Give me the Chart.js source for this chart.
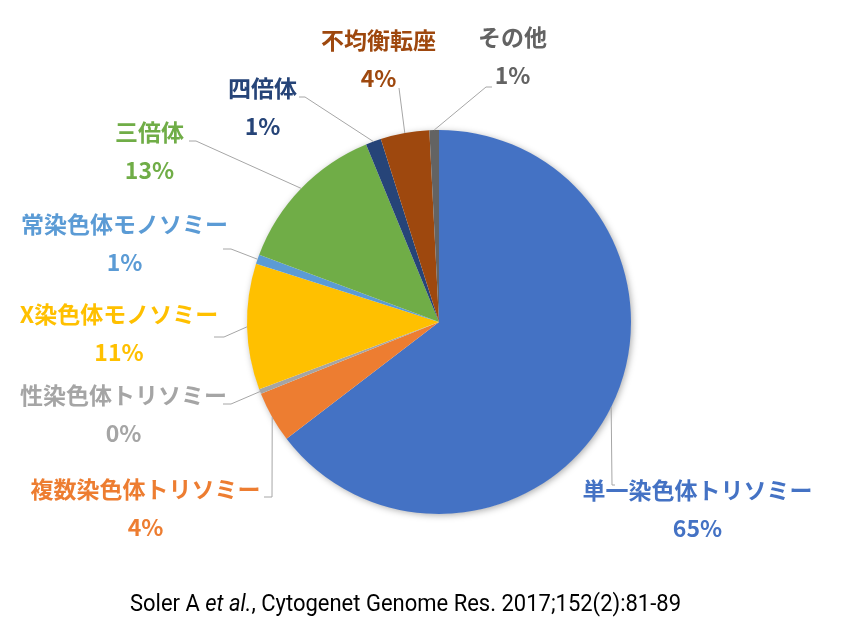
<!DOCTYPE html>
<html lang="ja">
<head>
<meta charset="utf-8">
<title>染色体異常の内訳</title>
<script src="https://cdn.jsdelivr.net/npm/chart.js@4/dist/chart.umd.min.js"></script>
<style>
  html, body { margin: 0; padding: 0; background: #fff; }
  #wrap { width: 844px; height: 642px; position: relative; }
</style>
</head>
<body>
<div id="wrap"><canvas id="pieChart"></canvas></div>
<script>
// DATA (clockwise from 12 o'clock)
const categories = [
  "単一染色体トリソミー",
  "複数染色体トリソミー",
  "性染色体トリソミー",
  "X染色体モノソミー",
  "常染色体モノソミー",
  "三倍体",
  "四倍体",
  "不均衡転座",
  "その他",
];
const shares = [64.6, 4.3, 0.4, 10.6, 0.8, 13.1, 1.3, 4.1, 0.8];
const sourceNote = ["Soler A ", "et al.", ", Cytogenet Genome Res. 2017;152(2):81-89"];

// STYLE
const sliceColors = [
  "#4472C4", "#ED7D31", "#A5A5A5", "#FFC000", "#5B9BD5",
  "#70AD47", "#264478", "#9E480E", "#636363",
];
const labelFont = 'bold 23px "Noto Sans CJK JP", "Noto Sans", sans-serif';

// label block centre + leader bend points, relative to the pie centre
const labelLayout = [
  { dx: 258.5, dy: 187.5, leader: [[173, 163], [176, 163]] },
  { dx: -293.5, dy: 186.5, leader: [[-167, 175], [-175, 175]] },
  { dx: -315.5, dy: 92, leader: [[-208, 82], [-216, 82]] },
  { dx: -320, dy: 11, leader: [[-215, 15], [-225, 15]] },
  { dx: -314.5, dy: -79, leader: [[-208, -73], [-216, -73]] },
  { dx: -289.5, dy: -170.5, leader: [[-243, -181], [-250, -181]] },
  { dx: -176.5, dy: -214.5, leader: [[-134, -225], [-140, -225]] },
  { dx: -60.5, dy: -263, leader: [[-40, -234]] },
  { dx: 73.5, dy: -266, leader: [[47, -235], [53, -235]] },
];

const pieShadow = {
  id: "pieShadow",
  beforeDatasetsDraw(chart) {
    const arc = chart.getDatasetMeta(0).data[0];
    if (!arc) return;
    const { ctx } = chart;
    ctx.save();
    ctx.shadowColor = "rgba(0,0,0,0.35)";
    ctx.shadowBlur = 7;
    ctx.shadowOffsetX = 1.5;
    ctx.shadowOffsetY = 1.5;
    ctx.fillStyle = "#ffffff";
    ctx.beginPath();
    ctx.arc(arc.x, arc.y, arc.outerRadius - 0.5, 0, Math.PI * 2);
    ctx.fill();
    ctx.restore();
  },
};

const sliceLabels = {
  id: "sliceLabels",
  afterDatasetsDraw(chart) {
    const { ctx } = chart;
    const arcs = chart.getDatasetMeta(0).data;
    arcs.forEach((arc, i) => {
      const { x, y, startAngle, endAngle, outerRadius } = arc.getProps(
        ["x", "y", "startAngle", "endAngle", "outerRadius"], true);
      const mid = (startAngle + endAngle) / 2;
      const lay = labelLayout[i];

      // leader line
      ctx.save();
      ctx.strokeStyle = "#A6A6A6";
      ctx.lineWidth = 1;
      ctx.beginPath();
      ctx.moveTo(x + Math.cos(mid) * outerRadius, y + Math.sin(mid) * outerRadius);
      lay.leader.forEach(([lx, ly]) => ctx.lineTo(x + lx, y + ly));
      ctx.stroke();

      // text
      ctx.fillStyle = sliceColors[i];
      ctx.font = labelFont;
      ctx.textAlign = "center";
      ctx.textBaseline = "middle";
      ctx.fillText(categories[i], x + lay.dx, y + lay.dy - 19);
      ctx.fillText(Math.round(shares[i]) + "%", x + lay.dx, y + lay.dy + 19);
      ctx.restore();
    });
  },
};

const sourceText = {
  id: "sourceText",
  afterDraw(chart) {
    const { ctx } = chart;
    const fonts = [
      '24px Roboto, "Liberation Sans", sans-serif',
      'italic 24px Roboto, "Liberation Sans", sans-serif',
      '24px Roboto, "Liberation Sans", sans-serif',
    ];
    ctx.save();
    const widths = sourceNote.map((t, i) => { ctx.font = fonts[i]; return ctx.measureText(t).width; });
    const total = widths.reduce((a, b) => a + b, 0);
    const target = 551;
    const sx = target / total;
    ctx.translate(130, 605);
    ctx.scale(sx, 1);
    ctx.fillStyle = "#000";
    ctx.textBaseline = "middle";
    let cur = 0;
    sourceNote.forEach((t, i) => {
      ctx.font = fonts[i];
      ctx.fillText(t, cur, 0);
      cur += widths[i];
    });
    ctx.restore();
  },
};

new Chart("pieChart", {
  type: "pie",
  data: {
    labels: categories,
    datasets: [{
      data: shares,
      backgroundColor: sliceColors,
      borderWidth: 0,
      hoverOffset: 0,
    }],
  },
  options: {
    responsive: true,
    maintainAspectRatio: false,
    devicePixelRatio: 1,
    animation: false,
    layout: { padding: { top: 130, bottom: 128, left: 247, right: 213 } },
    plugins: {
      legend: { display: false },
      tooltip: { enabled: false },
    },
  },
  plugins: [pieShadow, sliceLabels, sourceText],
});
</script>
</body>
</html>
